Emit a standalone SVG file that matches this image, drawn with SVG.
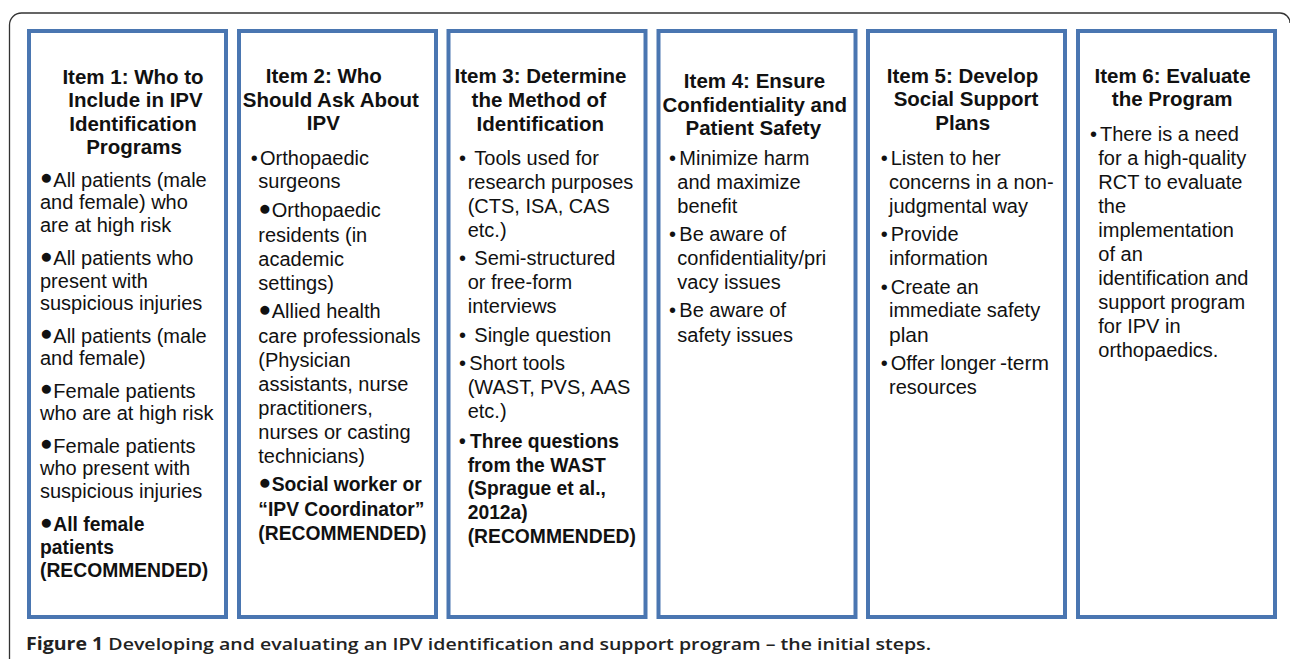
<svg xmlns="http://www.w3.org/2000/svg" width="1290" height="659" viewBox="0 0 1290 659">
<style>
.box{fill:#fff;stroke:#4a76b1;stroke-width:4}
.h{font-family:"Liberation Sans",Arial,sans-serif;font-weight:bold;font-size:20.5px;text-anchor:middle;fill:#111}
.t{font-family:"Liberation Sans",Arial,sans-serif;font-size:20px;fill:#111}
.b{font-family:"Liberation Sans",Arial,sans-serif;font-size:19.3px;font-weight:bold;fill:#111}
.bb{font-family:"Liberation Sans",Arial,sans-serif;font-size:21px;fill:#111}
.cap{font-family:"Open Sans","Noto Sans",sans-serif;font-size:17px;font-weight:600;fill:#222}
</style>
<path d="M9.5,659 V25 A12,12 0 0 1 21.5,13 H1280 A10,10 0 0 1 1290,23" fill="none" stroke="#333" stroke-width="1.3"/>
<g id="connectors"/>
<g id="item1">
<rect class="box" x="29" y="31" width="197" height="586"/>
<text class="h" x="133" y="84">Item 1: Who to</text>
<text class="h" x="135.5" y="107.3">Include in IPV</text>
<text class="h" x="133" y="130.7">Identification</text>
<text class="h" x="134" y="153.7">Programs</text>
<text class="bb" x="40" y="184.2">●</text><text class="t" x="53.3" y="186.7">All patients (male</text>
<text class="t" x="40" y="209.3">and female) who</text>
<text class="t" x="40" y="232.3">are at high risk</text>
<text class="bb" x="40" y="262.5">●</text><text class="t" x="53.3" y="265">All patients who</text>
<text class="t" x="40" y="287.7">present with</text>
<text class="t" x="40" y="310.3">suspicious injuries</text>
<text class="bb" x="40" y="340.2">●</text><text class="t" x="53.3" y="342.7">All patients (male</text>
<text class="t" x="40" y="365.3">and female)</text>
<text class="bb" x="40" y="395.2">●</text><text class="t" x="53.3" y="397.7">Female patients</text>
<text class="t" x="40" y="420.3">who are at high risk</text>
<text class="bb" x="40" y="450.2">●</text><text class="t" x="53.3" y="452.7">Female patients</text>
<text class="t" x="40" y="475.3">who present with</text>
<text class="t" x="40" y="498">suspicious injuries</text>
<text class="bb" x="40" y="528.8">●</text><text class="b" x="53.3" y="531.3">All female</text>
<text class="b" x="40" y="554">patients</text>
<text class="b" x="40" y="576.7">(RECOMMENDED)</text>
</g>
<g id="item2">
<rect class="box" x="239" y="31" width="197" height="586"/>
<text class="h" x="323.8" y="83.3">Item 2: Who</text>
<text class="h" x="330.8" y="106.7">Should Ask About</text>
<text class="h" x="323.3" y="130">IPV</text>
<text class="t" x="250.7" y="165">•</text><text class="t" x="260" y="165">Orthopaedic</text>
<text class="t" x="258.3" y="188.3">surgeons</text>
<text class="bb" x="258.6" y="214.8">●</text><text class="t" x="271.7" y="217.3">Orthopaedic</text>
<text class="t" x="258.3" y="241.5">residents (in</text>
<text class="t" x="258.3" y="265.7">academic</text>
<text class="t" x="258.3" y="290">settings)</text>
<text class="bb" x="258.6" y="315.8">●</text><text class="t" x="271.7" y="318.3">Allied health</text>
<text class="t" x="258.3" y="342.5">care professionals</text>
<text class="t" x="258.3" y="366.7">(Physician</text>
<text class="t" x="258.3" y="391">assistants, nurse</text>
<text class="t" x="258.3" y="415">practitioners,</text>
<text class="t" x="258.3" y="439.3">nurses or casting</text>
<text class="t" x="258.3" y="463.3">technicians)</text>
<text class="bb" x="258.6" y="488.8">●</text><text class="b" x="271.7" y="491.3">Social worker or</text>
<text class="b" x="258.3" y="515.7">“IPV Coordinator”</text>
<text class="b" x="258.3" y="540">(RECOMMENDED)</text>
</g>
<g id="item3">
<rect class="box" x="448.5" y="31" width="197" height="586"/>
<text class="h" x="540.5" y="82.7">Item 3: Determine</text>
<text class="h" x="538.8" y="106.7">the Method of</text>
<text class="h" x="540.3" y="130.7">Identification</text>
<text class="t" x="459" y="165">•</text><text class="t" x="474.3" y="165">Tools used for</text>
<text class="t" x="467.7" y="189">research purposes</text>
<text class="t" x="467.7" y="212.7">(CTS, ISA, CAS</text>
<text class="t" x="467.7" y="236.7">etc.)</text>
<text class="t" x="459" y="265">•</text><text class="t" x="474.3" y="265">Semi-structured</text>
<text class="t" x="467.7" y="289.3">or free-form</text>
<text class="t" x="467.7" y="313.3">interviews</text>
<text class="t" x="459" y="341.7">•</text><text class="t" x="474.3" y="341.7">Single question</text>
<text class="t" x="459" y="370">•</text><text class="t" x="469.3" y="370">Short tools</text>
<text class="t" x="467.7" y="394">(WAST, PVS, AAS</text>
<text class="t" x="467.7" y="418">etc.)</text>
<text class="b" x="459" y="447.7">•</text><text class="b" x="470" y="447.7">Three questions</text>
<text class="b" x="467.7" y="471.7">from the WAST</text>
<text class="b" x="467.7" y="495.3">(Sprague et al.,</text>
<text class="b" x="467.7" y="519.3">2012a)</text>
<text class="b" x="467.7" y="543.3">(RECOMMENDED)</text>
</g>
<g id="item4">
<rect class="box" x="658.5" y="31" width="197" height="586"/>
<text class="h" x="754.5" y="88.3">Item 4: Ensure</text>
<text class="h" x="754.8" y="111.7">Confidentiality and</text>
<text class="h" x="753.3" y="135">Patient Safety</text>
<text class="t" x="669" y="165">•</text><text class="t" x="679.3" y="165">Minimize harm</text>
<text class="t" x="677.3" y="189">and maximize</text>
<text class="t" x="677.3" y="212.7">benefit</text>
<text class="t" x="669" y="240.7">•</text><text class="t" x="679.3" y="240.7">Be aware of</text>
<text class="t" x="677.3" y="265">confidentiality/pri</text>
<text class="t" x="677.3" y="289.3">vacy issues</text>
<text class="t" x="669" y="317.3">•</text><text class="t" x="679.3" y="317.3">Be aware of</text>
<text class="t" x="677.3" y="341.7">safety issues</text>
</g>
<g id="item5">
<rect class="box" x="868" y="31" width="197" height="586"/>
<text class="h" x="962.5" y="82.7">Item 5: Develop</text>
<text class="h" x="966" y="106">Social Support</text>
<text class="h" x="962.7" y="130">Plans</text>
<text class="t" x="880.7" y="165">•</text><text class="t" x="890.7" y="165">Listen to her</text>
<text class="t" x="889" y="189">concerns in a non-</text>
<text class="t" x="889" y="212.7">judgmental way</text>
<text class="t" x="880.7" y="240.7">•</text><text class="t" x="890.7" y="240.7">Provide</text>
<text class="t" x="889" y="265">information</text>
<text class="t" x="880.7" y="294">•</text><text class="t" x="890.7" y="294">Create an</text>
<text class="t" x="889" y="317.3">immediate safety</text>
<text class="t" x="889" y="341.7" style="font-size:21px">plan</text>
<text class="t" x="880.7" y="370">•</text><text class="t" x="890.7" y="370">Offer longer<tspan dx="4" style="font-size:21px">-term</tspan></text>
<text class="t" x="889" y="393.7">resources</text>
</g>
<g id="item6">
<rect class="box" x="1078" y="31" width="197" height="586"/>
<text class="h" x="1172.5" y="82.7">Item 6: Evaluate</text>
<text class="h" x="1172.2" y="106">the Program</text>
<text class="t" x="1090" y="140.7">•</text><text class="t" x="1100" y="140.7">There is a need</text>
<text class="t" x="1098.3" y="165">for a high-quality</text>
<text class="t" x="1098.3" y="189">RCT to evaluate</text>
<text class="t" x="1098.3" y="212.7">the</text>
<text class="t" x="1098.3" y="236.7">implementation</text>
<text class="t" x="1098.3" y="260.7">of an</text>
<text class="t" x="1098.3" y="285">identification and</text>
<text class="t" x="1098.3" y="309.3">support program</text>
<text class="t" x="1098.3" y="333.3">for IPV in</text>
<text class="t" x="1098.3" y="357.3">orthopaedics.</text>
</g>
<text class="cap" x="26" y="650" textLength="905" lengthAdjust="spacingAndGlyphs"><tspan font-weight="700">Figure 1</tspan> Developing and evaluating an IPV identification and support program – the initial steps.</text>
</svg>
